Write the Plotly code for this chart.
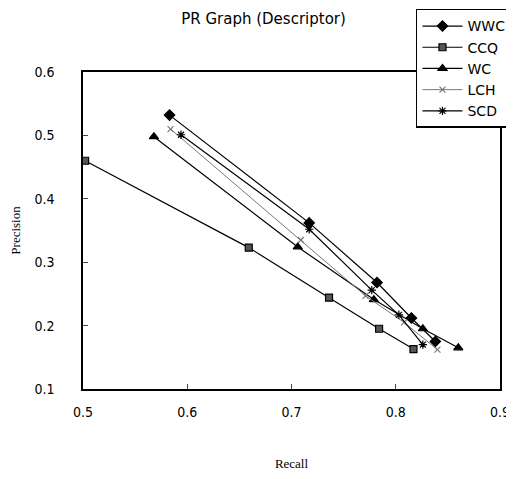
import plotly.graph_objects as go

# series (recall, precision)
wwc_x = [0.583, 0.717, 0.782, 0.815, 0.838]
wwc_y = [0.532, 0.362, 0.268, 0.212, 0.175]
ccq_x = [0.502, 0.659, 0.736, 0.784, 0.817]
ccq_y = [0.460, 0.323, 0.244, 0.195, 0.163]
wc_x = [0.568, 0.706, 0.779, 0.826, 0.860]
wc_y = [0.498, 0.324, 0.241, 0.195, 0.165]
lch_x = [0.584, 0.709, 0.771, 0.808, 0.840]
lch_y = [0.510, 0.335, 0.247, 0.205, 0.162]
scd_x = [0.594, 0.717, 0.777, 0.803, 0.826]
scd_y = [0.501, 0.352, 0.256, 0.217, 0.170]

series = [
    ("WWC", wwc_x, wwc_y, "diamond", 8, "black", 1.2),
    ("CCQ", ccq_x, ccq_y, "square", 7, "black", 1.2),
    ("WC", wc_x, wc_y, "triangle-up", 8, "black", 1.2),
    ("LCH", lch_x, lch_y, "x-thin", 6, "#777777", 1),
    ("SCD", scd_x, scd_y, "asterisk", 7, "black", 1.2),
]

fig = go.Figure()
for name, xs, ys, sym, sz, col, w in series:
    if sym == "square":
        mk = dict(symbol=sym, size=sz, color="#555555", line=dict(color="black", width=1.2))
    else:
        mk = dict(symbol=sym, size=sz, color=col, line=dict(color=col, width=1.2))
    fig.add_trace(go.Scatter(x=xs, y=ys, name=name, mode="lines+markers", legendgroup=name,
                             line=dict(color=col, width=w), marker=mk))

axis_font = dict(family="Liberation Sans Narrow, DejaVu Sans Condensed, Arial", size=14, color="black")
fig.update_xaxes(range=[0.5, 0.9], dtick=0.1, tickformat=".1f", ticks="inside", ticklen=5,
                 showline=True, linecolor="black", linewidth=1.5, mirror=True, showgrid=False,
                 zeroline=False, tickfont=axis_font, ticklabelstandoff=9,
                 title=dict(text="Recall", font=dict(family="Liberation Serif", size=13, color="black"),
                            standoff=47))
fig.update_yaxes(range=[0.1, 0.6], dtick=0.1, tickformat=".1f", ticks="inside", ticklen=5,
                 showline=True, linecolor="black", linewidth=1.5, mirror=True, showgrid=False,
                 zeroline=False, tickfont=axis_font, ticklabelstandoff=24,
                 title=dict(text="Precision", font=dict(family="Liberation Serif", size=13, color="black"),
                            standoff=12))

# page body has an 8px margin, so the figure is sized/offset to land on 514x479
fig.update_layout(
    width=506, height=463,
    margin=dict(l=75, r=14, t=64, b=82, autoexpand=False),
    paper_bgcolor="white", plot_bgcolor="white",
    title=dict(text="PR Graph (Descriptor)", x=0.505, xanchor="center", y=0.977, yanchor="middle",
               font=dict(family="DejaVu Sans", size=15, color="black")),
    legend=dict(x=0.996, y=0.998, xref="container", yref="container", xanchor="right", yanchor="top",
                bgcolor="white", bordercolor="black", borderwidth=1.5,
                font=dict(family="DejaVu Sans", size=14, color="black"),
                itemwidth=40, tracegroupgap=0),
    showlegend=True,
)

fig.write_html("out.html")
